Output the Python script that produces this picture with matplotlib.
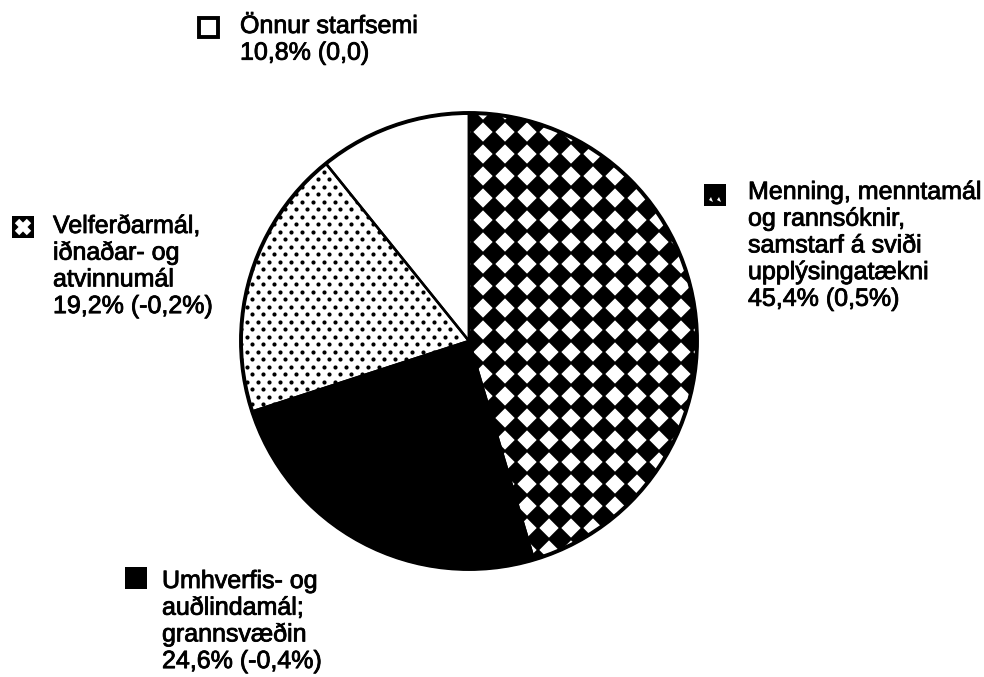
import numpy as np
import matplotlib.pyplot as plt
import matplotlib.patheffects as pe
from matplotlib.patches import Rectangle, Circle, Wedge, Polygon
from matplotlib.collections import PolyCollection

plt.rcParams['font.family'] = ['Liberation Sans', 'DejaVu Sans']

W, H = 984, 677

# slices, clockwise from 12 o'clock
shares = [45.4, 24.6, 19.2, 10.8]
changes = ["0,5%", "-0,4%", "-0,2%", "0,0"]
names = [
    "Menning, menntamál\nog rannsóknir,\nsamstarf á sviði\nupplýsingatækni",
    "Umhverfis- og\nauðlindamál;\ngrannsvæðin",
    "Velferðarmál,\niðnaðar- og\natvinnumál",
    "Önnur starfsemi",
]

# label layout in pixels (y measured from top)
marker_xy = [(704, 184), (125, 567), (12, 216), (197, 16)]
text_x = [748, 162, 53, 240]
text_base = [199, 588, 233, 33]
line_step = 26.7
msize = 22

cx, cy, R = 469, H - 341, 228

fig = plt.figure(figsize=(9.84, 6.77), dpi=100)
ax = fig.add_axes([0, 0, 1, 1])

wedges, _ = ax.pie(shares, startangle=90, counterclock=False,
                   center=(cx, cy), radius=R,
                   colors=['white', 'black', 'white', 'white'],
                   wedgeprops=dict(edgecolor='none'))

# checkerboard diamonds in the first slice
D = 22
h = 0.56 * D
polys = []
for i in range(-13, 14):
    for j in range(-13, 14):
        x0 = cx + 3 + i * D
        y0 = cy + j * D
        polys.append([(x0 - h, y0), (x0, y0 + h), (x0 + h, y0), (x0, y0 - h)])
pc = PolyCollection(polys, facecolor='black', edgecolor='none', zorder=2)
ax.add_collection(pc)
pc.set_clip_path(wedges[0])

# dotted fill in the third slice
dx, dy = 11, 7.5
xs, ys = [], []
for r, yy in enumerate(np.arange(cy - R, cy + R, dy)):
    off = (r % 2) * dx / 2
    for xx in np.arange(cx - R + off, cx + R, dx):
        xs.append(xx)
        ys.append(yy)
sc = ax.scatter(xs, ys, s=9, c='black', linewidths=0, zorder=2)
sc.set_clip_path(wedges[2])

# outlines on top
for w in wedges:
    ax.add_patch(Wedge(w.center, w.r, w.theta1, w.theta2, fill=False,
                       edgecolor='black', linewidth=1.8, zorder=3))
ax.add_patch(Circle((cx, cy), R, fill=False, edgecolor='black',
                    linewidth=2.8, zorder=4))

# legend markers
for k, (mx, my) in enumerate(marker_xy):
    x0, y0 = mx, H - my - msize
    if k == 3:
        ax.add_patch(Rectangle((x0 + 1.5, y0 + 1.5), msize - 3, msize - 3,
                               facecolor='white', edgecolor='black', linewidth=2.8))
        continue
    ax.add_patch(Rectangle((x0, y0), msize, msize, facecolor='black', edgecolor='none'))
    if k == 0:
        for sx in (5, 13):
            ax.add_patch(Polygon([(x0 + sx, y0 + 6), (x0 + sx + 4, y0 + 4),
                                  (x0 + sx + 2, y0 + 9)], closed=True,
                                 facecolor='white', edgecolor='none'))
    elif k == 2:
        ax.plot([x0 + 5, x0 + msize - 5], [y0 + 5, y0 + msize - 5],
                color='white', linewidth=4.5, solid_capstyle='butt')
        ax.plot([x0 + 5, x0 + msize - 5], [y0 + msize - 5, y0 + 5],
                color='white', linewidth=4.5, solid_capstyle='butt')

# label texts
for k in range(len(shares)):
    pct = f"{shares[k]:.1f}".replace('.', ',') + "% (" + changes[k] + ")"
    lines = names[k].split("\n") + [pct]
    for n, line in enumerate(lines):
        ax.text(text_x[k], H - (text_base[k] + n * line_step), line,
                fontsize=18, ha='left', va='baseline', color='black',
                path_effects=[pe.withStroke(linewidth=0.6, foreground='black')])

ax.set_xlim(0, W)
ax.set_ylim(0, H)
ax.set_aspect('auto')
ax.axis('off')

fig.savefig('out.png', dpi=100)
